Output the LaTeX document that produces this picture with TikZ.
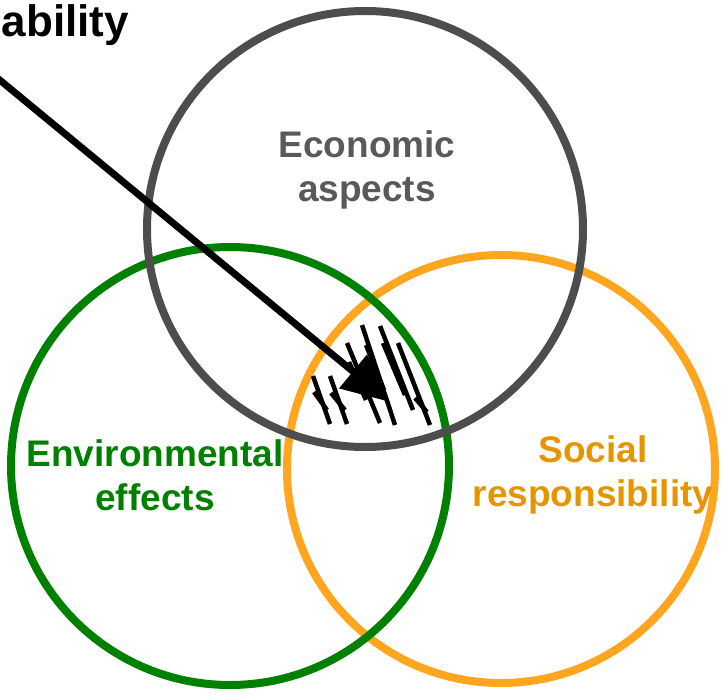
\documentclass[tikz,border=0pt]{standalone}
\usepackage{fontspec}
\setmainfont{Liberation Sans}
\usetikzlibrary{arrows.meta}
\definecolor{econgray}{HTML}{4D4D4D}
\definecolor{econtext}{HTML}{595959}
\definecolor{envgreen}{HTML}{008000}
\definecolor{socorange}{HTML}{FFA620}
\definecolor{soctext}{HTML}{E69500}
\tikzset{
    ring/.style={circle, draw, line width=8pt, inner sep=0pt, minimum size=#1},
    areatext/.style={font=\fontsize{37}{44}\selectfont\bfseries, align=center, inner sep=0pt},
    headtext/.style={font=\fontsize{44}{50}\selectfont\bfseries, inner sep=0pt},
    hatch/.style={line width=4.5pt, black},
    pointer/.style={-{Triangle[length=48pt, width=42pt]}, line width=7pt, black}
}

\begin{document}
\begin{tikzpicture}[x=1pt, y=-1pt]
    \useasboundingbox (0,0) rectangle (723,696);

    % the three areas
    \node (soc) [ring=428pt, draw=socorange] at (501,469) {};
    \node (env) [ring=438pt, draw=envgreen] at (230,466) {};
    \node (econ) [ring=436pt, draw=econgray] at (365,229) {};

    % hatching of the common part
    \foreach \xa/\ya/\xb/\yb in {313/376/330/424, 314/392/327/410, 330/376/347/424,
        331/393/345/410, 347/343/380/423, 349/362/366/400, 362/325/395/425,
        366/345/384/390, 380/326/413/410, 383/343/405/395, 398/343/430/425,
        415/398/427/412}
        \draw [hatch] (\xa,\ya) -- (\xb,\yb);

    % labels
    \node (econtxt) [areatext, text=econtext] at (367,170) {Economic\\aspects};
    \node (envtxt) [areatext, text=envgreen] at (155,475) {Environmental\\effects};
    \node (soctxt) [areatext, text=soctext] at (593,475) {Social\\responsibility};
    \node (title) [headtext, anchor=base east] at (129,36) {Sustainability};

    % pointer into the common part
    \coordinate (src) at (-10,72);
    \coordinate (tip) at (390,402);
    \draw [pointer] (src) -- (tip);
\end{tikzpicture}
\end{document}
